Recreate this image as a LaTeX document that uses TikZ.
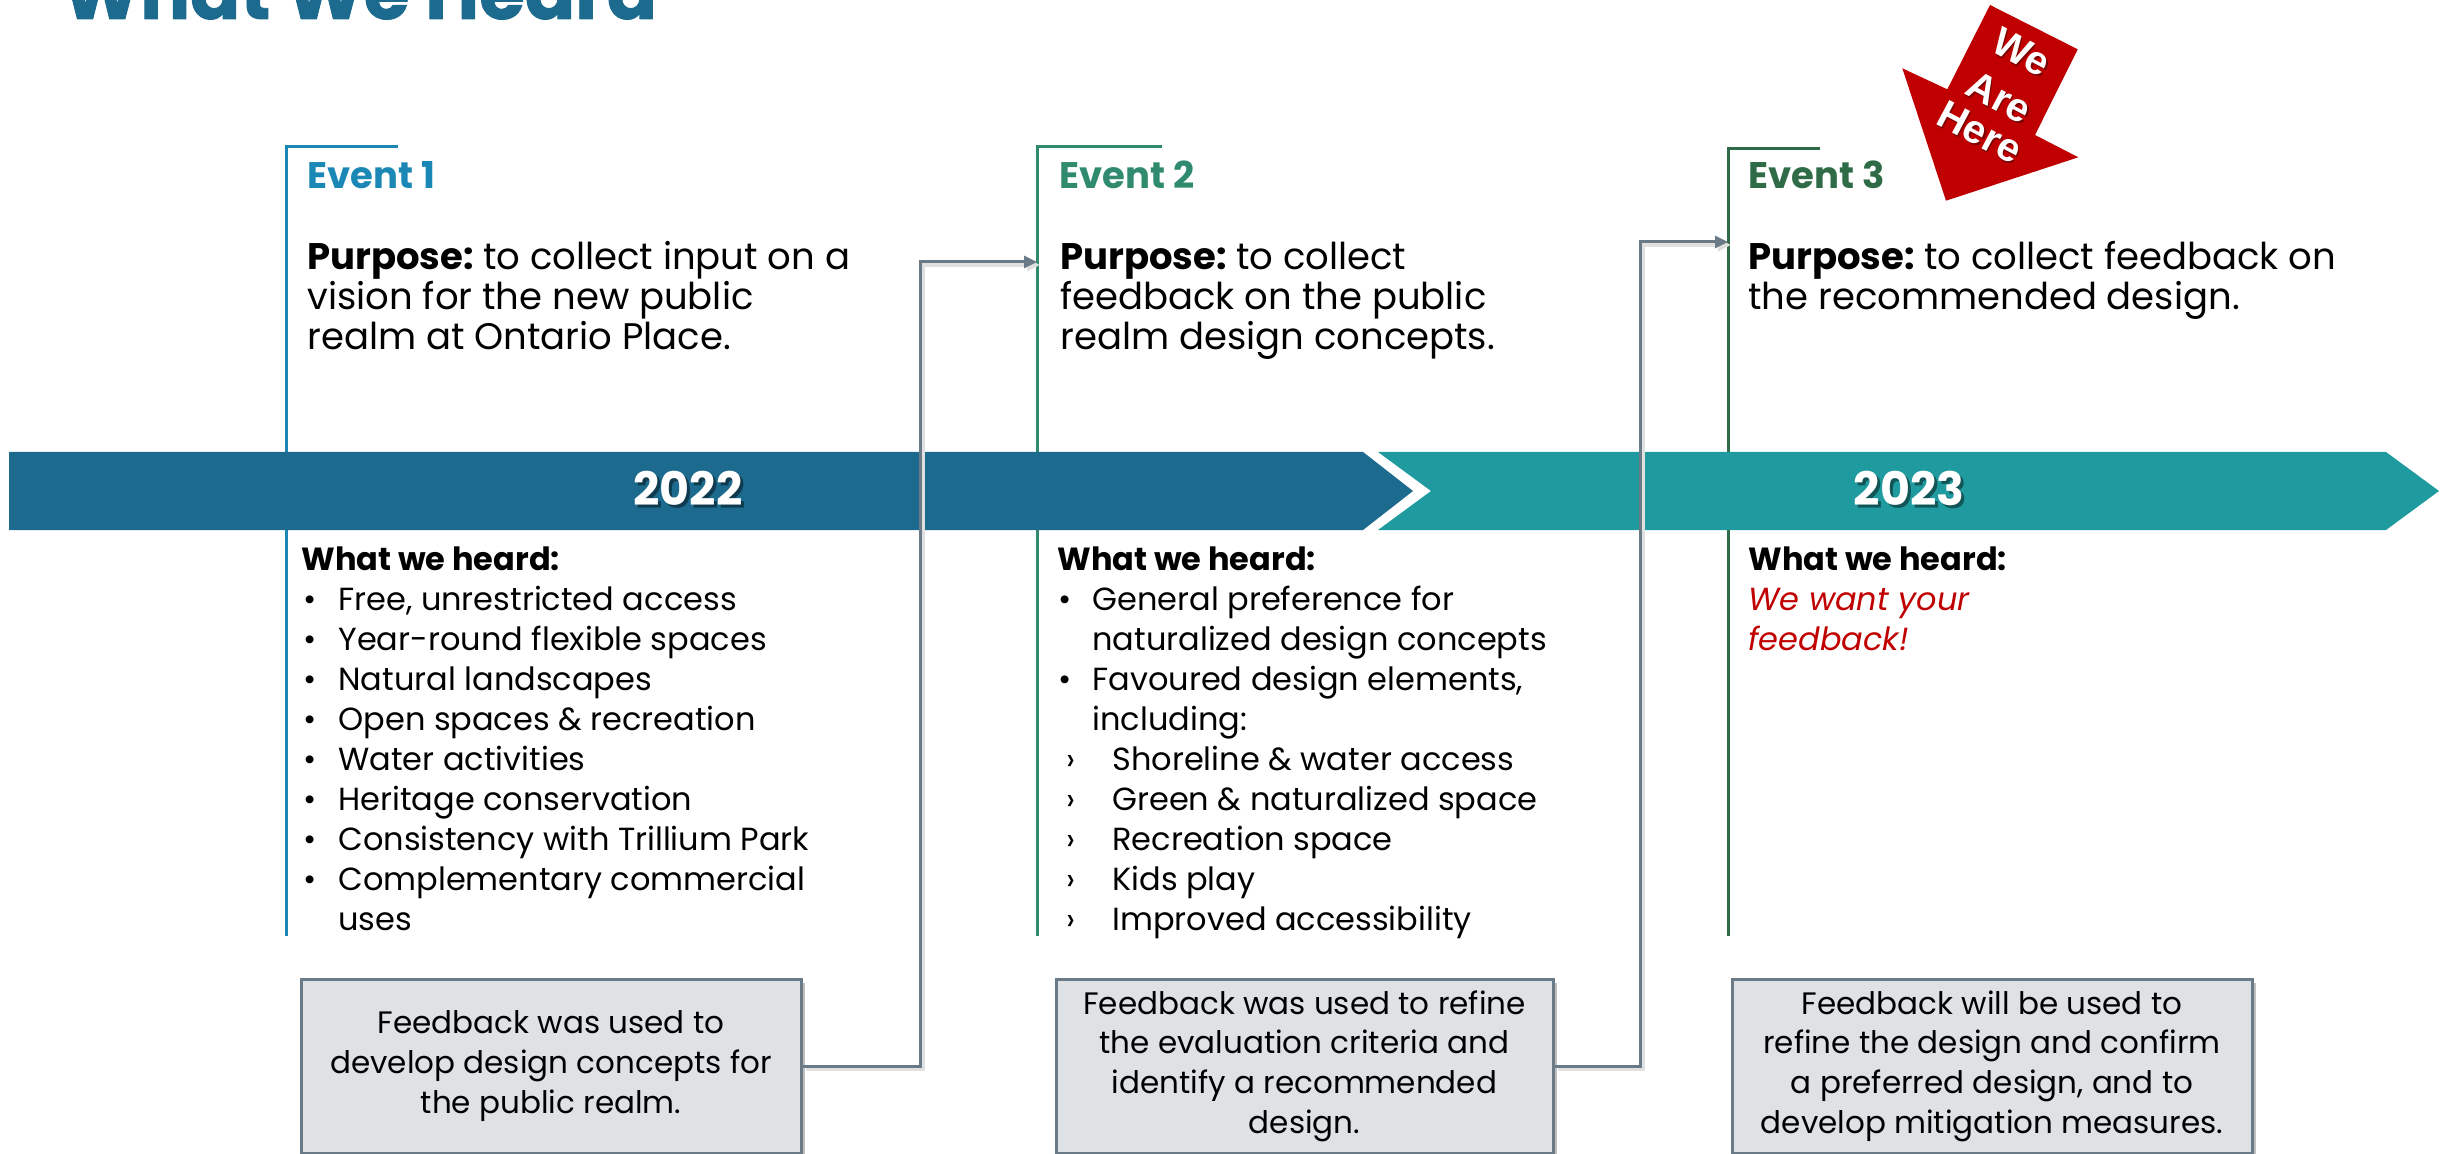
\documentclass[tikz,border=0pt]{standalone}
\usepackage{fontspec}
\setmainfont{Poppins}
\newfontfamily\arialf{Liberation Sans}
\usetikzlibrary{arrows.meta,shadows}
\definecolor{bandblue}{HTML}{1C6A8E}
\definecolor{bandteal}{HTML}{1F9BA0}
\definecolor{evone}{HTML}{1B87B5}
\definecolor{evtwo}{HTML}{2F8A6E}
\definecolor{evthree}{HTML}{2E6B46}
\definecolor{herered}{HTML}{C00000}
\definecolor{boxfill}{HTML}{DFE2E5}
\definecolor{boxline}{HTML}{6A7B87}
\newcommand\bA{\makebox[18.5pt][l]{\hspace*{1pt}•}}
\newcommand\cA{\hspace*{18.5pt}}
\newcommand\bB{\makebox[17.5pt][l]{\hspace*{0.5pt}•}}
\newcommand\cB{\hspace*{17.5pt}}
\newcommand\sB{\makebox[27.5pt][l]{\hspace*{4.5pt}›}}
\begin{document}
\begin{tikzpicture}[x=0.5pt,y=-0.5pt,
  evline/.style={line width=1.5pt},
  evlabel/.style={anchor=base west,inner sep=0,font=\fontsize{18.5}{22}\selectfont\bfseries},
  purp/.style={anchor=base west,inner sep=0,align=left,font=\fontsize{18.5}{20}\selectfont},
  heard/.style={anchor=base west,inner sep=0,align=left,font=\fontsize{16}{20}\selectfont},
  year/.style={font=\fontsize{23}{26}\selectfont\bfseries,inner sep=0},
  fbox/.style={draw=boxline,line width=1.5pt,fill=boxfill,align=center,
    font=\fontsize{15.5}{19.8}\selectfont,minimum height=87pt,inner sep=0,
    drop shadow={shadow xshift=2pt,shadow yshift=-2pt,opacity=0.25,fill=black}},
  conn/.style={draw=boxline,line width=1.5pt,-{Triangle[length=6.5pt,width=6pt]},
    preaction={draw=black!12,line width=2pt,transform canvas={shift={(1.5pt,-1.5pt)}}}},
  here/.style={rotate=-28,inner sep=0,font=\arialf\fontsize{20}{22}\selectfont\bfseries}
]
\useasboundingbox (0,0) rectangle (2445,1154);
% title
\node[anchor=base west,inner sep=0,font=\fontsize{37}{40}\selectfont\bfseries\addfontfeature{FakeBold=1.2},text=bandblue] (title) at (62,19) {What We Heard};
% event brackets
\draw[evline,evone] (398,147) -- (286,147) -- (286,936);
\draw[evline,evtwo] (1162,147) -- (1037,147) -- (1037,936);
\draw[evline,evthree] (1820,149) -- (1728,149) -- (1728,936);
\coordinate (etwoin) at (1037,262);
\coordinate (ethreein) at (1728,242);
% band
\fill[bandblue] (9,452) -- (1363,452) -- (1413,491) -- (1363,530) -- (9,530) -- cycle;
\fill[bandteal] (1378,452) -- (2386,452) -- (2439,491) -- (2386,530) -- (1378,530) -- (1431,491) -- cycle;
\node[year,text=black,opacity=0.45] at (691,491) {2022};
\node[year,text=white] (ytwo) at (688,488) {2022};
\node[year,text=black,opacity=0.45] at (1912,491) {2023};
\node[year,text=white] (ythree) at (1909,488) {2023};
% event labels
\node[evlabel,text=evone] (lab1) at (307,189) {Event 1};
\node[evlabel,text=evtwo] (lab2) at (1059,189) {Event 2};
\node[evlabel,text=evthree] (lab3) at (1748,189) {Event 3};
% purpose (anchored at the last line's baseline)
\node[purp] (p1) at (307,350) {\textbf{Purpose:}\hspace{-2pt} to collect input on a\\vision for the new public\\realm at Ontario Place.};
\node[purp] (p2) at (1060,350) {\textbf{Purpose:}\hspace{-2pt} to collect\\feedback on the public\\realm design concepts.};
\node[purp] (p3) at (1748,310) {\textbf{Purpose:}\hspace{-2pt} to collect feedback on\\the recommended design.};
% what we heard
\node[heard] (h1) at (301,930) {\textbf{What we heard:}\\
\bA Free, unrestricted access\\
\bA Year-round flexible spaces\\
\bA Natural landscapes\\
\bA Open spaces \& recreation\\
\bA Water activities\\
\bA Heritage conservation\\
\bA Consistency with Trillium Park\\
\bA Complementary commercial\\
\cA uses};
\node[heard] (h2) at (1057,930) {\textbf{What we heard:}\\
\bB General preference for\\
\cB naturalized design concepts\\
\bB Favoured design elements,\\
\cB including:\\
\sB Shoreline \& water access\\
\sB Green \& naturalized space\\
\sB Recreation space\\
\sB Kids play\\
\sB Improved accessibility};
\node[heard] (h3) at (1748,650) {\textbf{What we heard:}\\
\textcolor{herered}{\itshape We want your}\\
\textcolor{herered}{\itshape feedback!}};
% feedback boxes
\node[fbox,minimum width=250pt] (fb1) at (551,1066) {\raisebox{-3pt}{\parbox{240pt}{\centering Feedback was used to\\develop design concepts for\\the public realm.}}};
\node[fbox,minimum width=248.5pt] (fb2) at (1304.5,1066) {Feedback was used to refine\\the evaluation criteria and\\identify a recommended\\design.};
\node[fbox,minimum width=260pt] (fb3) at (1992,1066) {Feedback will be used to\\refine the design and confirm\\a preferred design, and to\\develop mitigation measures.};
% connectors
\coordinate (kone) at (920,262);
\coordinate (ktwo) at (1640,242);
\draw[conn] (fb1.east) -| (kone) -- (etwoin);
\draw[conn] (fb2.east) -| (ktwo) -- (ethreein);
% we are here arrow
\fill[herered] (1990,5) -- (2077.7,49.3) -- (2035,135) -- (2078.3,157.3) -- (1946,200.7) -- (1902.3,68.3) -- (1947.3,89.3) -- cycle;
\node[here,text=black,opacity=0.35] at (2023,54) {We};
\node[here,text=white] (we) at (2021.7,52.3) {We};
\node[here,text=black,opacity=0.35] at (2000.6,99) {Are};
\node[here,text=white] (are) at (1999.3,97.3) {Are};
\node[here,text=black,opacity=0.35] at (1981.3,134) {Here};
\node[here,text=white] (herenode) at (1980,132.3) {Here};
\end{tikzpicture}
\end{document}
